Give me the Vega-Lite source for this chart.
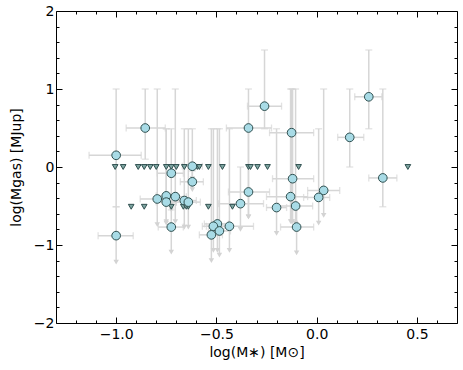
{
  "$schema": "https://vega.github.io/schema/vega-lite/v6.json",
  "width": 401,
  "height": 312,
  "autosize": {"type": "none"},
  "padding": {"left": 56, "top": 11, "right": 6, "bottom": 47},
  "config": {
    "view": {"stroke": null},
    "font": "DejaVu Sans",
    "axis": {"labelFont": "DejaVu Sans", "titleFont": "DejaVu Sans", "labelFontSize": 14, "titleFontSize": 14, "titleFontWeight": "normal", "labelColor": "black", "titleColor": "black", "grid": false, "tickColor": "black", "domainColor": "black"}
  },
  "datasets": {
    "c": [
      {"x": -1.0, "y": 0.15, "xlo": -1.135, "xhi": -0.875, "ylo": -0.51, "yhi": 1.0, "arr": 0},
      {"x": -1.0, "y": -0.88, "xlo": -1.09, "xhi": -0.915, "ylo": -1.22, "yhi": -0.51, "arr": 1},
      {"x": -0.855, "y": 0.5, "xlo": -0.95, "xhi": -0.755, "ylo": 0.1, "yhi": 1.0, "arr": 0},
      {"x": -0.795, "y": -0.41, "xlo": -0.88, "xhi": -0.74, "ylo": -0.74, "yhi": 1.0, "arr": 1},
      {"x": -0.75, "y": -0.37, "xlo": -0.8, "xhi": -0.7, "ylo": -0.7, "yhi": 0.49, "arr": 1},
      {"x": -0.75, "y": -0.45, "xlo": -0.8, "xhi": -0.7, "ylo": -0.72, "yhi": 0.49, "arr": 1},
      {"x": -0.725, "y": -0.08, "xlo": -0.795, "xhi": -0.665, "ylo": -0.55, "yhi": 0.49, "arr": 1},
      {"x": -0.725, "y": -0.77, "xlo": -0.79, "xhi": -0.665, "ylo": -1.09, "yhi": -0.55, "arr": 1},
      {"x": -0.705, "y": -0.38, "xlo": -0.76, "xhi": -0.65, "ylo": -0.7, "yhi": 1.0, "arr": 1},
      {"x": -0.66, "y": -0.43, "xlo": -0.72, "xhi": -0.6, "ylo": -0.77, "yhi": 0.49, "arr": 1},
      {"x": -0.64, "y": -0.45, "xlo": -0.7, "xhi": -0.58, "ylo": -0.77, "yhi": 0.49, "arr": 1},
      {"x": -0.62, "y": 0.01, "xlo": -0.67, "xhi": -0.57, "ylo": -0.15, "yhi": 0.49, "arr": 1},
      {"x": -0.62, "y": -0.19, "xlo": -0.68, "xhi": -0.565, "ylo": -0.29, "yhi": -0.05, "arr": 1},
      {"x": -0.26, "y": 0.78, "xlo": -0.345, "xhi": -0.175, "ylo": 0.49, "yhi": 1.5, "arr": 0},
      {"x": -0.34, "y": 0.5, "xlo": -0.45, "xhi": -0.225, "ylo": -0.64, "yhi": 1.0, "arr": 1},
      {"x": -0.125, "y": 0.44, "xlo": -0.235, "xhi": -0.015, "ylo": -0.7, "yhi": 1.0, "arr": 1},
      {"x": 0.165, "y": 0.38, "xlo": 0.105, "xhi": 0.235, "ylo": 0.0, "yhi": 1.0, "arr": 0},
      {"x": 0.26, "y": 0.9, "xlo": 0.19, "xhi": 0.325, "ylo": 0.49, "yhi": 1.5, "arr": 0},
      {"x": 0.33, "y": -0.14, "xlo": 0.26, "xhi": 0.4, "ylo": -0.51, "yhi": 1.0, "arr": 0},
      {"x": 0.035, "y": -0.3, "xlo": -0.045, "xhi": 0.115, "ylo": -0.62, "yhi": 1.0, "arr": 1},
      {"x": 0.01, "y": -0.39, "xlo": -0.065, "xhi": 0.065, "ylo": -0.72, "yhi": 0.49, "arr": 1},
      {"x": -0.12, "y": -0.15, "xlo": -0.22, "xhi": -0.015, "ylo": -0.7, "yhi": 1.0, "arr": 1},
      {"x": -0.13, "y": -0.38, "xlo": -0.25, "xhi": -0.045, "ylo": -0.7, "yhi": 1.0, "arr": 1},
      {"x": -0.105, "y": -0.5, "xlo": -0.19, "xhi": -0.02, "ylo": -0.72, "yhi": 1.0, "arr": 1},
      {"x": -0.1, "y": -0.77, "xlo": -0.18, "xhi": -0.015, "ylo": -1.1, "yhi": -0.5, "arr": 1},
      {"x": -0.2, "y": -0.52, "xlo": -0.25, "xhi": -0.15, "ylo": -0.85, "yhi": 0.49, "arr": 1},
      {"x": -0.34, "y": -0.32, "xlo": -0.44, "xhi": -0.235, "ylo": -0.64, "yhi": 0.5, "arr": 1},
      {"x": -0.38, "y": -0.47, "xlo": -0.49, "xhi": -0.265, "ylo": -0.8, "yhi": 0.0, "arr": 1},
      {"x": -0.435, "y": -0.76, "xlo": -0.55, "xhi": -0.315, "ylo": -1.07, "yhi": 0.49, "arr": 1},
      {"x": -0.495, "y": -0.73, "xlo": -0.56, "xhi": -0.44, "ylo": -1.07, "yhi": 0.49, "arr": 1},
      {"x": -0.515, "y": -0.76, "xlo": -0.57, "xhi": -0.46, "ylo": -1.07, "yhi": 0.49, "arr": 1},
      {"x": -0.485, "y": -0.82, "xlo": -0.54, "xhi": -0.43, "ylo": -1.13, "yhi": 0.49, "arr": 1},
      {"x": -0.525, "y": -0.87, "xlo": -0.585, "xhi": -0.47, "ylo": -1.2, "yhi": 0.49, "arr": 1}
    ],
    "t": [
      {"x": -1.005, "y": 0.0}, {"x": -0.965, "y": 0.0}, {"x": -0.89, "y": 0.0}, {"x": -0.86, "y": 0.0},
      {"x": -0.83, "y": 0.0}, {"x": -0.8, "y": 0.0}, {"x": -0.75, "y": 0.0}, {"x": -0.725, "y": 0.0},
      {"x": -0.7, "y": 0.0}, {"x": -0.66, "y": 0.0}, {"x": -0.595, "y": 0.0}, {"x": -0.585, "y": 0.0},
      {"x": -0.54, "y": 0.0}, {"x": -0.47, "y": 0.0}, {"x": -0.34, "y": 0.0}, {"x": -0.33, "y": 0.0},
      {"x": -0.295, "y": 0.0}, {"x": -0.245, "y": 0.0}, {"x": -0.09, "y": 0.0}, {"x": 0.455, "y": 0.0},
      {"x": -0.925, "y": -0.51}, {"x": -0.86, "y": -0.51}, {"x": -0.725, "y": -0.51}, {"x": -0.665, "y": -0.51},
      {"x": -0.65, "y": -0.51}, {"x": -0.64, "y": -0.51}, {"x": -0.54, "y": -0.51}, {"x": -0.42, "y": -0.51}
    ]
  },
  "resolve": {"axis": {"x": "independent", "y": "independent"}},
  "layer": [
    {
      "data": {"name": "c"},
      "mark": {"type": "rule", "color": "#d6d6d6", "strokeWidth": 1.5},
      "encoding": {
        "x": {"field": "x", "type": "quantitative", "scale": {"domain": [-1.3, 0.7], "nice": false, "zero": false},
          "axis": {"orient": "bottom", "values": [-1, -0.5, 0, 0.5], "format": ".1f", "tickSize": -6, "labelPadding": 10, "title": "log(M∗) [M⊙]", "titlePadding": 4}},
        "y": {"field": "ylo", "type": "quantitative", "scale": {"domain": [-2, 2], "nice": false, "zero": false},
          "axis": {"orient": "left", "values": [-2, -1, 0, 1, 2], "format": "d", "tickSize": -6, "labelPadding": 8, "title": "log(Mgas) [MJup]", "titlePadding": 10}},
        "y2": {"field": "yhi"}
      }
    },
    {
      "data": {"name": "c"},
      "mark": {"type": "rule", "color": "#d6d6d6", "strokeWidth": 1.5},
      "encoding": {
        "x": {"field": "xlo", "type": "quantitative",
          "axis": {"orient": "bottom", "values": [-1.2, -1.1, -0.9, -0.8, -0.7, -0.6, -0.4, -0.3, -0.2, -0.1, 0.1, 0.2, 0.3, 0.4, 0.6], "tickSize": -3, "labels": false, "domain": false, "title": null}},
        "x2": {"field": "xhi"},
        "y": {"field": "y", "type": "quantitative",
          "axis": {"orient": "left", "values": [-1.8, -1.6, -1.4, -1.2, -0.8, -0.6, -0.4, -0.2, 0.2, 0.4, 0.6, 0.8, 1.2, 1.4, 1.6, 1.8], "tickSize": -3, "labels": false, "domain": false, "title": null}}
      }
    },
    {
      "data": {"name": "c"},
      "mark": {"type": "tick", "orient": "horizontal", "color": "#d6d6d6", "size": 7, "thickness": 1.3},
      "encoding": {
        "x": {"field": "x", "type": "quantitative",
          "axis": {"orient": "top", "values": [-1, -0.5, 0, 0.5], "tickSize": -6, "labels": false, "title": null}},
        "y": {"field": "yhi", "type": "quantitative",
          "axis": {"orient": "right", "values": [-2, -1, 0, 1, 2], "tickSize": -6, "labels": false, "title": null}}
      }
    },
    {
      "data": {"name": "c"},
      "transform": [{"filter": "datum.arr == 0"}],
      "mark": {"type": "tick", "orient": "horizontal", "color": "#d6d6d6", "size": 7, "thickness": 1.3},
      "encoding": {
        "x": {"field": "x", "type": "quantitative",
          "axis": {"orient": "top", "values": [-1.2, -1.1, -0.9, -0.8, -0.7, -0.6, -0.4, -0.3, -0.2, -0.1, 0.1, 0.2, 0.3, 0.4, 0.6], "tickSize": -3, "labels": false, "domain": false, "title": null}},
        "y": {"field": "ylo", "type": "quantitative",
          "axis": {"orient": "right", "values": [-1.8, -1.6, -1.4, -1.2, -0.8, -0.6, -0.4, -0.2, 0.2, 0.4, 0.6, 0.8, 1.2, 1.4, 1.6, 1.8], "tickSize": -3, "labels": false, "domain": false, "title": null}}
      }
    },
    {
      "data": {"name": "c"},
      "mark": {"type": "tick", "orient": "vertical", "color": "#d6d6d6", "size": 7, "thickness": 1.3},
      "encoding": {
        "x": {"field": "xlo", "type": "quantitative", "axis": null},
        "y": {"field": "y", "type": "quantitative", "axis": null}
      }
    },
    {
      "data": {"name": "c"},
      "mark": {"type": "tick", "orient": "vertical", "color": "#d6d6d6", "size": 7, "thickness": 1.3},
      "encoding": {
        "x": {"field": "xhi", "type": "quantitative", "axis": null},
        "y": {"field": "y", "type": "quantitative", "axis": null}
      }
    },
    {
      "data": {"name": "c"},
      "transform": [{"filter": "datum.arr == 1"}],
      "mark": {"type": "point", "shape": "triangle-down", "filled": true, "color": "#d3d3d3", "size": 30, "opacity": 1},
      "encoding": {
        "x": {"field": "x", "type": "quantitative", "axis": null},
        "y": {"field": "ylo", "type": "quantitative", "axis": null}
      }
    },
    {
      "data": {"name": "t"},
      "mark": {"type": "point", "shape": "triangle-down", "filled": true, "fill": "#7fa6a2", "stroke": "#2f4f4f", "strokeWidth": 1, "size": 32, "opacity": 1},
      "encoding": {
        "x": {"field": "x", "type": "quantitative", "axis": null},
        "y": {"field": "y", "type": "quantitative", "axis": null}
      }
    },
    {
      "data": {"name": "c"},
      "mark": {"type": "point", "shape": "circle", "filled": true, "fill": "#a8dbe6", "stroke": "#2f4f4f", "strokeWidth": 1, "size": 75, "opacity": 1},
      "encoding": {
        "x": {"field": "x", "type": "quantitative", "axis": null},
        "y": {"field": "y", "type": "quantitative", "axis": null}
      }
    }
  ]
}
